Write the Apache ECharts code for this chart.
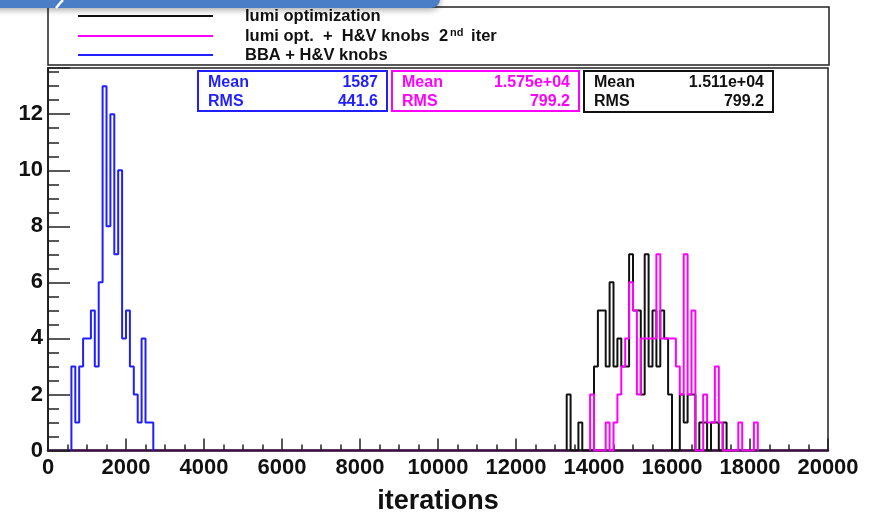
<!DOCTYPE html>
<html>
<head>
<meta charset="utf-8">
<script src="https://cdn.jsdelivr.net/npm/echarts@6/dist/echarts.min.js"></script>
<style>
  html, body { margin: 0; padding: 0; background: #fff; }
  #chart { width: 873px; height: 515px; }
</style>
</head>
<body>
<div id="chart"></div>
<script>
// histogram bins, 100 iterations wide
const binWidth = 100;

// BBA + H&V knobs
const blueStart = 600;
const blueCounts = [3, 1, 3, 4, 4, 5, 3, 6, 13, 8, 12, 7, 10, 4, 5, 3, 2, 1, 4, 1, 1];

// lumi optimization
const blackStart = 13300;
const blackCounts = [2, 0, 0, 1, 0, 0, 0, 3, 5, 5, 3, 6, 3, 4, 3, 3, 7, 5, 5, 2, 7, 3, 5, 3, 5, 4, 2,
  0, 0, 2, 1, 2, 2, 0, 1, 1, 0, 1, 1, 0, 1];

// lumi opt. + H&V knobs 2nd iter
const magentaStart = 13900;
const magentaCounts = [2, 0, 0, 0, 1, 0, 1, 2, 3, 4, 6, 5, 2, 4, 4, 4, 4, 7, 4, 4, 4, 4, 3, 2, 7, 2, 5,
  0, 0, 2, 1, 1, 3, 1, 0, 0, 0, 0, 1, 0, 0, 0, 1];

const legendNames = ['lumi optimization', 'lumi opt. + H&V knobs 2nd iter', 'BBA + H&V knobs'];
const statsLabels = ['Mean', 'RMS'];
const blueStats = ['1587', '441.6'];
const magentaStats = ['1.575e+04', '799.2'];
const blackStats = ['1.511e+04', '799.2'];

const xTicks = { min: 0, max: 20000, interval: 2000 };
const yTicks = { min: 0, max: 13.65, interval: 2 };

const FONT = '"Liberation Sans", Arial, Helvetica, sans-serif';
const BLUE = '#1f1fff';
const MAGENTA = '#ff00ff';
const BLACK = '#111111';

// turn bin counts into step points (left edge of each bin)
const stepData = (start, counts) => {
  const pts = [[start, 0]];
  counts.forEach((c, i) => pts.push([start + i * binWidth, c]));
  pts.push([start + counts.length * binWidth, 0]);
  return pts;
};

const histSeries = (name, start, counts, color, z) => ({
  name: name,
  type: 'line',
  step: 'end',
  showSymbol: false,
  data: stepData(start, counts),
  lineStyle: { color: color, width: 2 },
  itemStyle: { color: color },
  z: z,
  animation: false
});

const statText = (text, x, y, align, color) => ({
  type: 'text', z: 11,
  style: { text: text, x: x, y: y, textAlign: align, textVerticalAlign: 'middle',
    fontSize: 16, fontWeight: 'bold', fontFamily: FONT, fill: color }
});

// stats box drawn as graphic
const statsBox = (x, y, w, h, color, values) => ([
  {
    type: 'rect', shape: { x: x, y: y, width: w, height: h },
    style: { fill: '#fff', stroke: color, lineWidth: 2 }, z: 10
  },
  statText(statsLabels[0], x + 10, y + 12, 'left', color),
  statText(statsLabels[1], x + 10, y + 31, 'left', color),
  statText(values[0], x + w - 9, y + 12, 'right', color),
  statText(values[1], x + w - 9, y + 31, 'right', color)
]);

const legendEntry = (y, color, text, rich) => ([
  {
    type: 'line', shape: { x1: 78, y1: y, x2: 213, y2: y },
    style: { stroke: color, lineWidth: 2 }, z: 10
  },
  {
    type: 'text', z: 11,
    style: { text: text, rich: rich, x: 245, y: y, textAlign: 'left', textVerticalAlign: 'middle',
      fontSize: 16.5, fontWeight: 'bold', fontFamily: FONT, fill: BLACK }
  }
]);

const supRich = {
  a: { fontSize: 16.5, fontWeight: 'bold', fontFamily: FONT, color: BLACK, lineHeight: 18, verticalAlign: 'bottom' },
  s: { fontSize: 11, fontWeight: 'bold', fontFamily: FONT, color: BLACK, lineHeight: 18, verticalAlign: 'top',
    padding: [0, 3, 0, 2] }
};

const chart = echarts.init(document.getElementById('chart'), null, { renderer: 'canvas' });

chart.setOption({
  backgroundColor: '#ffffff',
  animation: false,
  grid: {
    left: 48, top: 68, right: 45, bottom: 64.5,
    outerBoundsMode: 'none',
    containLabel: false,
    show: true, borderColor: '#222', borderWidth: 1.5, backgroundColor: 'transparent'
  },
  xAxis: {
    type: 'value',
    min: xTicks.min, max: xTicks.max, interval: xTicks.interval,
    name: 'iterations',
    nameLocation: 'middle',
    nameGap: 38,
    nameTextStyle: { fontSize: 27, fontWeight: 'bold', fontFamily: FONT, color: BLACK },
    axisLine: { show: true, lineStyle: { color: '#3a0c40', width: 2.5 } },
    axisTick: { show: true, inside: true, length: 12, lineStyle: { color: '#222', width: 1.5 } },
    minorTick: { show: true, splitNumber: 4, length: 6, lineStyle: { color: '#222', width: 1.5 } },
    axisLabel: {
      fontSize: 22, fontWeight: 'bold', fontFamily: FONT, color: BLACK, margin: 6,
      formatter: (v) => String(v)
    },
    splitLine: { show: false }
  },
  yAxis: {
    type: 'value',
    min: yTicks.min, max: yTicks.max, interval: yTicks.interval,
    axisLine: { show: true, lineStyle: { color: '#222', width: 2 } },
    axisTick: { show: true, inside: true, length: 22, lineStyle: { color: '#222', width: 1.5 } },
    minorTick: { show: true, splitNumber: 4, length: 11, lineStyle: { color: '#222', width: 1.5 } },
    axisLabel: {
      fontSize: 22, fontWeight: 'bold', fontFamily: FONT, color: BLACK, margin: 5,
      formatter: (v) => (v % 2 === 0 ? String(v) : '')
    },
    splitLine: { show: false }
  },
  series: [
    histSeries(legendNames[2], blueStart, blueCounts, BLUE, 2),
    histSeries(legendNames[0], blackStart, blackCounts, BLACK, 3),
    histSeries(legendNames[1], magentaStart, magentaCounts, MAGENTA, 4)
  ],
  graphic: [
    // slide title bar peeking in at the top
    {
      type: 'rect', shape: { x: -20, y: -20, width: 460, height: 28, r: 9 },
      style: { fill: '#4a7ec6', shadowBlur: 6, shadowColor: 'rgba(0,0,0,0.35)', shadowOffsetY: 2 }, z: 20
    },
    {
      type: 'polyline', shape: { points: [[56, 8], [61, 2], [63, 0]] },
      style: { stroke: '#ffffff', lineWidth: 2.5, fill: null }, z: 21
    },
    // legend box
    {
      type: 'rect', shape: { x: 48, y: 7, width: 781, height: 58 },
      style: { fill: '#fff', stroke: '#222', lineWidth: 1.5 }, z: 9
    },
    ...legendEntry(16, BLACK, legendNames[0]),
    ...legendEntry(36, MAGENTA, '{a|lumi opt.  +  H&V knobs  2}{s|nd}{a| iter}', supRich),
    ...legendEntry(55, BLUE, legendNames[2]),
    // stats boxes
    ...statsBox(198, 71, 189, 40, BLUE, blueStats),
    ...statsBox(392, 71, 187, 40, MAGENTA, magentaStats),
    ...statsBox(584, 71, 189, 41, BLACK, blackStats)
  ]
});
</script>
</body>
</html>
